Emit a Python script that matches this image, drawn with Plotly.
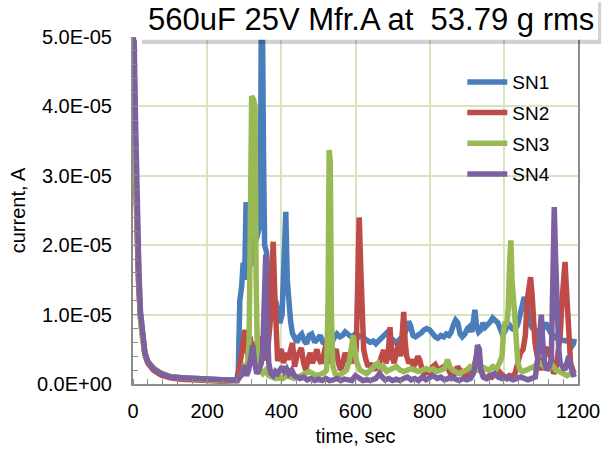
import plotly.graph_objects as go

# leakage current vs time, values in units of 1E-05 A
t_sn1 = [0, 4, 8, 11, 15, 20, 25, 32, 40, 55, 75, 100, 130, 160, 200, 240, 280,
         284, 288, 293, 297, 301, 305, 309, 313, 318, 323, 328, 333, 338, 343, 346, 349,
         352, 355, 360, 365, 370, 375, 380, 385, 390, 396, 402, 407, 412, 416, 420, 425,
         430, 436, 442, 448, 455, 462, 468, 475, 482, 490, 497, 505, 512, 520, 528, 535,
         542, 550, 558, 565, 572, 580, 588, 595, 602, 610, 618, 625, 632, 640, 648, 655,
         662, 670, 678, 685, 692, 700, 708, 715, 722, 730, 737, 743, 748, 755, 762, 770,
         778, 785, 792, 800, 808, 815, 822, 830, 838, 845, 852, 858, 864, 870, 876, 882,
         888, 895, 902, 908, 914, 918, 922, 926, 932, 938, 944, 950, 957, 964, 970, 977,
         984, 990, 996, 1002, 1008, 1015, 1022, 1030, 1037, 1044, 1050, 1055, 1060, 1066,
         1072, 1078, 1085, 1092, 1100, 1107, 1114, 1120, 1128, 1135, 1142, 1150, 1158,
         1165, 1172, 1178, 1184, 1188, 1190]
i_sn1 = [4.7, 4.3, 2.9, 2.2, 1.5, 1.0, 0.7, 0.45, 0.32, 0.22, 0.15, 0.11, 0.09, 0.08, 0.07, 0.06, 0.06,
         0.2, 1.2, 1.4, 1.75, 1.5, 2.62, 1.6, 1.9, 1.7, 2.0, 2.1, 2.1, 2.2, 2.3, 5.3, 5.3,
         3.27, 2.0, 1.9, 1.6, 1.2, 1.5, 1.1, 1.2, 1.0, 0.88, 1.0, 1.6, 2.48, 1.5, 1.1, 0.9,
         0.73, 0.65, 0.6, 0.68, 0.72, 0.62, 0.58, 0.7, 0.72, 0.6, 0.65, 0.7, 0.6, 0.58, 0.6, 0.58,
         0.66, 0.72, 0.68, 0.7, 0.75, 0.72, 0.68, 0.7, 0.73, 0.68, 0.7, 0.65, 0.62, 0.6, 0.62, 0.58,
         0.62, 0.66, 0.7, 0.74, 0.68, 0.63, 0.6, 0.62, 0.66, 0.7, 0.78, 0.9, 0.85, 0.7, 0.68, 0.7,
         0.74, 0.78, 0.8, 0.78, 0.72, 0.68, 0.66, 0.7, 0.68, 0.72, 0.7, 0.75, 0.85, 0.92, 0.88, 0.72,
         0.68, 0.72, 0.8, 0.83, 0.75, 0.9, 1.07, 0.85, 0.75, 0.78, 0.88, 0.82, 0.85, 0.9, 0.95, 0.92,
         0.88, 0.8, 0.72, 0.75, 0.82, 0.85, 0.8, 0.78, 0.85, 1.0, 1.17, 1.25, 1.2, 0.95,
         0.85, 0.8, 0.78, 0.75, 0.73, 0.82, 0.88, 0.8, 0.72, 0.7, 0.66, 0.65, 0.63,
         0.62, 0.63, 0.6, 0.55, 0.58, 0.65]

t_sn2 = [0, 4, 8, 11, 15, 20, 25, 32, 40, 55, 75, 100, 130, 160, 200, 240, 282,
         288, 292, 297, 302, 306, 311, 316, 321, 326, 332, 338, 344, 350, 355, 360, 365,
         370, 374, 378, 382, 386, 390, 395, 400, 406, 412, 418, 424, 430, 436, 442, 448,
         454, 460, 466, 472, 478, 484, 490, 496, 502, 508, 514, 520, 525, 530, 536, 542,
         548, 554, 560, 566, 572, 578, 584, 590, 596, 602, 606, 610, 614, 618, 622, 628,
         634, 640, 646, 652, 658, 664, 670, 676, 682, 688, 693, 698, 704, 710, 716, 722,
         726, 730, 734, 738, 744, 750, 756, 762, 768, 773, 780, 786, 792, 800, 808, 815,
         822, 830, 838, 845, 852, 860, 868, 875, 882, 890, 898, 905, 912, 920, 926, 932,
         938, 945, 952, 960, 968, 976, 984, 992, 1000, 1008, 1015, 1022, 1030, 1038, 1045,
         1052, 1058, 1063, 1068, 1072, 1076, 1080, 1084, 1090, 1095, 1100, 1106, 1112,
         1118, 1123, 1128, 1134, 1140, 1146, 1152, 1157, 1161, 1165, 1168, 1172, 1176,
         1180, 1186, 1190]
i_sn2 = [4.4, 4.0, 2.8, 2.1, 1.45, 0.95, 0.65, 0.42, 0.3, 0.2, 0.13, 0.09, 0.07, 0.06, 0.05, 0.04, 0.05,
         0.3, 0.39, 0.6, 0.78, 0.5, 0.4, 0.68, 0.45, 0.5, 0.6, 0.45, 0.55, 0.68, 0.4, 0.35, 0.6,
         0.9, 1.5, 2.05, 1.35, 0.88, 0.33, 0.45, 0.5, 0.3, 0.45, 0.35, 0.5, 0.59, 0.25, 0.4, 0.45,
         0.52, 0.3, 0.2, 0.35, 0.45, 0.3, 0.38, 0.5, 0.35, 0.3, 0.42, 0.55, 0.68, 0.4, 0.3, 0.45,
         0.5, 0.3, 0.2, 0.3, 0.45, 0.35, 0.3, 0.4, 0.3, 0.5, 1.4, 2.4, 1.7, 1.2, 0.5, 0.35,
         0.25, 0.3, 0.2, 0.25, 0.2, 0.3, 0.4, 0.49, 0.3, 0.4, 0.82, 0.4, 0.3, 0.5, 0.6, 0.4,
         0.7, 1.04, 0.6, 0.4, 0.3, 0.35, 0.25, 0.3, 0.4, 0.35, 0.2, 0.15, 0.2, 0.15, 0.25, 0.28,
         0.2, 0.22, 0.25, 0.28, 0.18, 0.1, 0.15, 0.25, 0.2, 0.15, 0.12, 0.18, 0.2, 0.25, 0.4, 0.35,
         0.2, 0.1, 0.08, 0.12, 0.1, 0.15, 0.2, 0.15, 0.1, 0.08, 0.12, 0.1, 0.15, 0.3, 0.45,
         0.5, 0.7, 1.2, 1.4, 1.54, 1.3, 0.9, 0.6, 0.4, 0.3, 0.2, 0.35, 0.45,
         0.5, 0.49, 0.3, 0.15, 0.2, 0.4, 0.7, 1.2, 1.6, 1.76, 1.45, 1.0, 0.5,
         0.3, 0.2, 0.15]

t_sn3 = [0, 4, 8, 11, 15, 20, 25, 32, 40, 55, 75, 100, 130, 160, 200, 240, 282,
         290, 296, 302, 308, 313, 317, 320, 325, 329, 332, 336, 342, 350, 358, 366, 375,
         385, 395, 405, 415, 425, 435, 445, 455, 465, 475, 485, 495, 505, 515, 522, 526,
         529, 532, 535, 539, 545, 552, 560, 568, 576, 584, 590, 594, 598, 604, 612, 620,
         630, 640, 650, 660, 668, 676, 684, 692, 700, 710, 720, 730, 740, 750, 760, 770,
         780, 790, 800, 810, 820, 830, 840, 848, 854, 862, 870, 880, 890, 900, 910, 920,
         930, 940, 950, 960, 970, 980, 988, 995, 1000, 1004, 1008, 1012, 1016, 1019, 1022,
         1026, 1030, 1034, 1038, 1044, 1050, 1060, 1070, 1080, 1090, 1100, 1110, 1120,
         1130, 1140, 1150, 1160, 1170, 1180, 1190]
i_sn3 = [4.2, 3.6, 2.7, 2.0, 1.4, 0.95, 0.68, 0.45, 0.33, 0.23, 0.16, 0.11, 0.09, 0.07, 0.06, 0.05, 0.05,
         0.12, 0.16, 0.3, 0.25, 0.6, 2.0, 4.15, 4.1, 4.0, 1.5, 0.3, 0.2, 0.15, 0.2, 0.12, 0.1,
         0.08, 0.1, 0.08, 0.12, 0.1, 0.08, 0.1, 0.12, 0.15, 0.18, 0.15, 0.12, 0.14, 0.16, 0.2, 1.2,
         3.37, 3.2, 1.0, 0.25, 0.15, 0.12, 0.14, 0.18, 0.2, 0.35, 0.6, 0.7, 0.5, 0.3, 0.2, 0.18,
         0.15, 0.2, 0.25, 0.3, 0.2, 0.25, 0.18, 0.2, 0.22, 0.25, 0.2, 0.18, 0.2, 0.22, 0.2, 0.18,
         0.2, 0.22, 0.2, 0.22, 0.18, 0.2, 0.22, 0.35, 0.25, 0.2, 0.18, 0.15, 0.18, 0.2, 0.25, 0.22,
         0.2, 0.25, 0.22, 0.2, 0.25, 0.22, 0.3, 0.4, 0.8, 0.9, 0.85, 1.1, 1.8, 2.07, 1.5,
         1.0, 0.95, 0.6, 0.3, 0.2, 0.18, 0.2, 0.22, 0.25, 0.28, 0.3, 0.25, 0.22,
         0.28, 0.2, 0.18, 0.15, 0.12, 0.15, 0.2]

t_sn4 = [0, 3, 6, 9, 12, 16, 20, 25, 32, 40, 55, 75, 100, 130, 160, 200, 240, 280,
         288, 296, 301, 306, 312, 318, 323, 328, 334, 340, 346, 350, 354, 358, 362, 366,
         372, 378, 384, 390, 396, 402, 408, 414, 420, 428, 435, 442, 450, 460, 470, 480,
         490, 500, 510, 520, 530, 540, 550, 560, 570, 580, 590, 600, 610, 620, 630, 640,
         655, 665, 672, 680, 690, 700, 710, 720, 730, 740, 750, 760, 770, 780, 790, 800,
         810, 820, 830, 840, 850, 860, 870, 880, 890, 900, 910, 918, 924, 929, 934, 938,
         945, 955, 965, 975, 985, 995, 1005, 1015, 1025, 1035, 1045, 1055, 1065, 1075,
         1085, 1092, 1097, 1101, 1105, 1110, 1116, 1122, 1128, 1132, 1136, 1139, 1143,
         1148, 1152, 1158, 1164, 1170, 1175, 1180, 1186, 1190]
i_sn4 = [5.0, 5.0, 4.0, 3.0, 2.3, 1.6, 1.05, 0.72, 0.45, 0.32, 0.22, 0.15, 0.1, 0.09, 0.08, 0.07, 0.05, 0.05,
         0.1, 0.15, 0.27, 0.12, 0.2, 0.35, 0.56, 0.3, 0.15, 0.2, 0.3, 0.5, 1.2, 1.86, 0.9, 0.3,
         0.15, 0.12, 0.18, 0.15, 0.2, 0.25, 0.18, 0.22, 0.15, 0.2, 0.12, 0.1, 0.08, 0.1, 0.06, 0.08,
         0.05, 0.07, 0.05, 0.08, 0.05, 0.06, 0.08, 0.05, 0.07, 0.06, 0.05, 0.12, 0.08, 0.05, 0.06, 0.05,
         0.08, 0.15, 0.1, 0.06, 0.08, 0.05, 0.07, 0.05, 0.08, 0.1, 0.06, 0.08, 0.05, 0.1, 0.06, 0.08,
         0.12, 0.08, 0.1, 0.06, 0.08, 0.1, 0.07, 0.05, 0.08, 0.06, 0.08, 0.15, 0.3, 0.56, 0.5, 0.2,
         0.1, 0.08, 0.12, 0.15, 0.1, 0.08, 0.1, 0.08, 0.06, 0.08, 0.1, 0.08, 0.06, 0.08,
         0.1, 0.4, 0.8, 1.0, 0.6, 0.3, 0.2, 0.25, 0.35, 1.2, 2.55, 1.9, 1.0,
         0.5, 0.3, 0.25, 0.2, 0.3, 0.4, 0.25, 0.15, 0.1]

y_ticks = [0, 1e-05, 2e-05, 3e-05, 4e-05, 5e-05]
y_labels = ["0.0E+00", "1.0E-05", "2.0E-05", "3.0E-05", "4.0E-05", "5.0E-05"]
x_ticks = [0, 200, 400, 600, 800, 1000, 1200]

series = [
    ("SN1", t_sn1, i_sn1, "#4A7EBB"),
    ("SN2", t_sn2, i_sn2, "#BE4B48"),
    ("SN3", t_sn3, i_sn3, "#98B954"),
    ("SN4", t_sn4, i_sn4, "#7D60A0"),
]

fig = go.Figure()
for name, t, i, color in series:
    fig.add_trace(
        go.Scatter(
            x=t,
            y=[v * 1e-05 for v in i],
            mode="lines",
            name=name,
            line=dict(color=color, width=5.5),
            legendgroup=name,
        )
    )

font = "Liberation Sans, Arial, sans-serif"
grid = "#D7E4BD"
axis = "#8C8C8C"

# title box with a soft shadow
fig.add_shape(type="rect", xref="paper", yref="paper",
              x0=0.02, x1=1.052, y0=0.980, y1=1.10,
              fillcolor="rgba(0,0,0,0.18)", line=dict(width=0), layer="above")
fig.add_shape(type="rect", xref="paper", yref="paper",
              x0=0.007, x1=1.045, y0=0.992, y1=1.11,
              fillcolor="white", line=dict(width=0), layer="above")
fig.add_annotation(
    text="560uF 25V Mfr.A at \u00a053.79 g rms",
    xref="paper", yref="paper", x=0.534, y=1.05,
    xanchor="center", yanchor="middle", showarrow=False,
    font=dict(family=font, size=31, color="black"),
)

fig.update_layout(
    width=603,
    height=458,
    margin=dict(l=133, r=25, t=37, b=74),
    paper_bgcolor="white",
    plot_bgcolor="white",
    font=dict(family=font, size=20, color="black"),
    showlegend=True,
    legend=dict(x=0.74, y=0.925, xanchor="left", yanchor="top",
                bgcolor="rgba(0,0,0,0)", font=dict(size=19),
                tracegroupgap=3, itemwidth=40),
    xaxis=dict(
        range=[0, 1200], tickvals=x_ticks, automargin=False,
        showgrid=True, gridcolor=grid, gridwidth=2,
        showline=True, linecolor=axis, linewidth=2,
        ticks="", ticklabelstandoff=8, zeroline=False,
        minor=dict(ticks="inside", dtick=40, ticklen=5, tickcolor=axis, showgrid=False),
        title=dict(text="time, sec", standoff=8, font=dict(size=20)),
    ),
    yaxis=dict(
        range=[0, 5e-05], tickvals=y_ticks, ticktext=y_labels, automargin=False,
        showgrid=True, gridcolor=grid, gridwidth=2,
        showline=True, linecolor=axis, linewidth=2, mirror=True,
        ticks="", ticklabelstandoff=15, zeroline=False,
        minor=dict(ticks="inside", dtick=2e-06, ticklen=5, tickcolor=axis, showgrid=False),
        title=dict(text="current, A", standoff=6, font=dict(size=20)),
    ),
)

# the page's default body margin would shift the figure by 8px
fig.write_html("out.html", config={"displayModeBar": False},
               post_script="document.body.style.margin='0';")
